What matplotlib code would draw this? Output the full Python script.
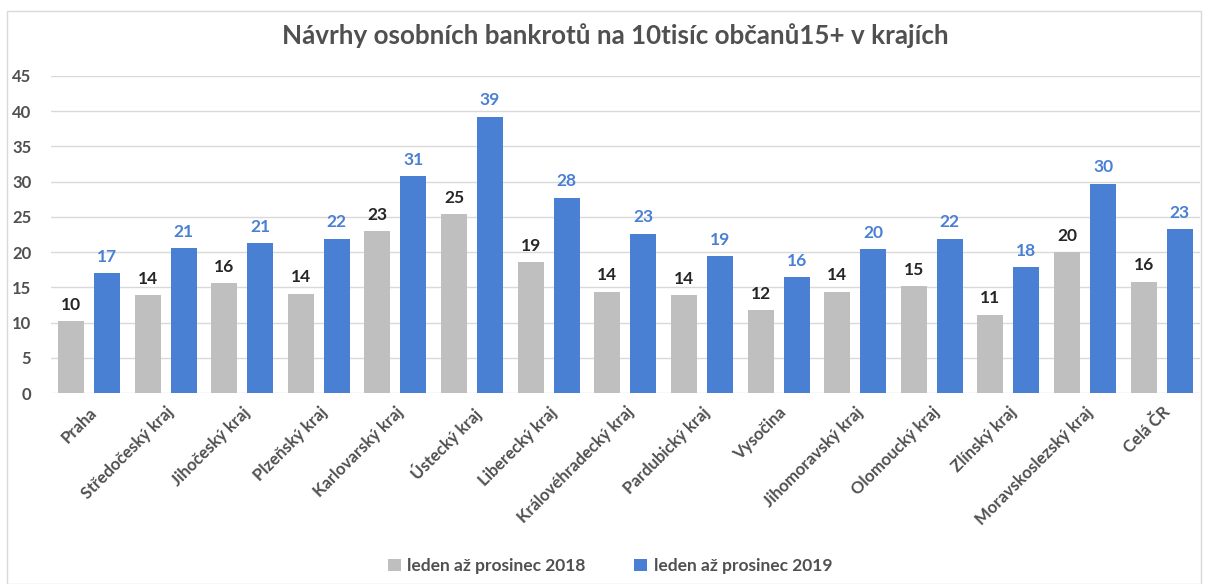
import numpy as np
import matplotlib
matplotlib.use('Agg')
import matplotlib.pyplot as plt
from matplotlib.patches import Rectangle

# Data
kraje = ['Praha', 'Středočeský kraj', 'Jihočeský kraj', 'Plzeňský kraj', 'Karlovarský kraj',
         'Ústecký kraj', 'Liberecký kraj', 'Královéhradecký kraj', 'Pardubický kraj', 'Vysočina',
         'Jihomoravský kraj', 'Olomoucký kraj', 'Zlínský kraj', 'Moravskoslezský kraj', 'Celá ČR']
rok_2018 = [10.2, 13.9, 15.6, 14.1, 23.0, 25.4, 18.6, 14.4, 13.9, 11.8, 14.4, 15.2, 11.1, 20.0, 15.8]
rok_2019 = [17.0, 20.6, 21.3, 21.9, 30.8, 39.2, 27.7, 22.6, 19.4, 16.4, 20.4, 21.9, 17.9, 29.7, 23.3]
serie = ['leden až prosinec 2018', 'leden až prosinec 2019']

plt.rcParams['font.family'] = ['Lato', 'DejaVu Sans']

gray = '#BFBFBF'
blue = '#4A80D4'
text_col = '#505050'

fig = plt.figure(figsize=(12.06, 5.84), dpi=100)
ax = fig.add_axes([0.042, 0.327, 0.953, 0.543])

x = np.arange(len(kraje))
w = 0.34
off = 0.235
b1 = ax.bar(x - off, rok_2018, w, color=gray, label=serie[0], zorder=3)
b2 = ax.bar(x + off, rok_2019, w, color=blue, label=serie[1], zorder=3)

for bars, col in [(b1, '#262626'), (b2, blue)]:
    for r in bars:
        ax.annotate(f'{r.get_height():.0f}', (r.get_x() + r.get_width() / 2, r.get_height()),
                    xytext=(0, 6), textcoords='offset points', ha='center', va='bottom',
                    fontsize=12.5, fontweight='bold', color=col)

ax.set_ylim(0, 45)
ax.set_yticks(range(0, 50, 5))
ax.set_xlim(-0.5, len(kraje) - 0.5)
ax.yaxis.grid(True, color='#D9D9D9', linewidth=1, zorder=0)
for s in ax.spines.values():
    s.set_visible(False)
ax.tick_params(length=0)
ax.tick_params(axis='y', pad=14, labelsize=12, labelcolor=text_col)
ax.set_xticks(x)
ax.set_xticklabels(kraje, rotation=45, ha='right', rotation_mode='anchor',
                   fontsize=12, color=text_col, fontweight='bold')
ax.tick_params(axis='x', pad=8)
for t in ax.get_yticklabels():
    t.set_fontweight('bold')

fig.suptitle('Návrhy osobních bankrotů na 10tisíc občanů15+ v krajích',
             x=0.51, y=0.96, fontsize=18.7, color=text_col, fontweight='bold')

fig.legend(handles=[b1, b2], loc='lower center', bbox_to_anchor=(0.506, -0.01), ncol=2,
           frameon=False, handlelength=0.7, handleheight=0.7,
           columnspacing=2.8, handletextpad=0.4,
           prop={'weight': 'bold', 'size': 12.5})
for t in fig.legends[0].get_texts():
    t.set_color(text_col)

fig.patches.append(Rectangle((0.006, 0.0), 0.99, 0.982, transform=fig.transFigure,
                             fill=False, edgecolor='#D9D9D9', linewidth=1))

fig.savefig('out.png', dpi=100)
